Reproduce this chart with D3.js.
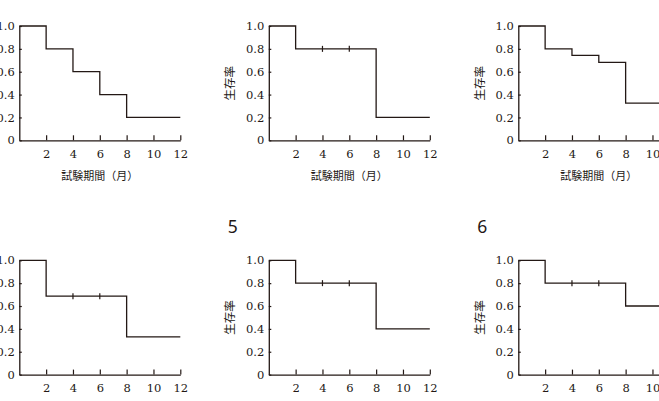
<!DOCTYPE html>
<html>
<head>
<meta charset="utf-8">
<script src="https://cdn.jsdelivr.net/npm/d3@7"></script>
<style>
  html, body { margin: 0; padding: 0; background: #ffffff; }
  svg { display: block; }
</style>
</head>
<body>
<svg id="chart" width="659" height="401"></svg>
<script>
// ---- data ----
const panelLabels = ["1", "2", "3", "4", "5", "6"];
const times = [0, 2, 4, 6, 8, 12];
const surv1 = [1.0, 0.8, 0.6, 0.4, 0.2, 0.2];
const surv2 = [1.0, 0.8, 0.8, 0.8, 0.2, 0.2];
const surv3 = [1.0, 0.8, 0.743, 0.682, 0.325, 0.325];
const surv4 = [1.0, 0.686, 0.686, 0.686, 0.33, 0.33];
const surv5 = [1.0, 0.8, 0.8, 0.8, 0.4, 0.4];
const surv6 = [1.0, 0.8, 0.8, 0.8, 0.6, 0.6];
const censor1 = [];
const censor2 = [4, 6];
const censor3 = [];
const censor4 = [4, 6];
const censor5 = [4, 6];
const censor6 = [4, 6];
const xTicks = [2, 4, 6, 8, 10, 12];
const yTicks = [0, 0.2, 0.4, 0.6, 0.8, 1.0];
const yTickLabels = ["0", "0.2", "0.4", "0.6", "0.8", "1.0"];
const xTitle = "試験期間（月）";
const yTitle = "生存率";

const series = [surv1, surv2, surv3, surv4, surv5, surv6];
const censors = [censor1, censor2, censor3, censor4, censor5, censor6];

// ---- layout ----
const ink = "#231815";
const CW = 659, CH = 401;
const W = 161, H = 114.3;
const x0 = 19.3, y0 = 26, dx = 249.5, dy = 234.3;

const svg = d3.select("#chart");

const x = d3.scaleLinear().domain([0, 12]).range([0, W]);
const y = d3.scaleLinear().domain([0, 1]).range([H, 0]);

series.forEach((vals, i) => {
  const col = i % 3, row = Math.floor(i / 3);
  const ox = x0 + col * dx, oy = y0 + row * dy;
  const g = svg.append("g").attr("transform", `translate(${ox},${oy})`);

  // x axis
  const xa = g.append("g")
    .attr("transform", `translate(0,${H})`)
    .call(d3.axisBottom(x).tickValues(xTicks).tickSizeInner(-5).tickSizeOuter(0).tickPadding(9.5));
  // y axis
  const ya = g.append("g")
    .call(d3.axisLeft(y).tickValues(yTicks).tickFormat((d, k) => yTickLabels[k])
      .tickSizeInner(-2.5).tickSizeOuter(0).tickPadding(4.5));

  [xa, ya].forEach(a => {
    a.select(".domain").attr("stroke", ink).attr("stroke-width", 1.3);
    a.selectAll(".tick line").attr("stroke", ink).attr("stroke-width", 1.2);
    a.selectAll(".tick text")
      .attr("fill", ink)
      .style("font-family", "'DejaVu Serif', serif")
      .style("font-size", "11.5px");
  });
  // drop tick labels that lie wholly outside the visible canvas
  xa.selectAll(".tick").filter(d => ox + x(d) - 8 > CW).select("text").remove();

  // survival curve
  const pts = times.map((t, k) => [t, vals[k]]);
  const line = d3.line().x(d => x(d[0])).y(d => y(d[1])).curve(d3.curveStepAfter);
  g.append("path")
    .attr("d", line(pts))
    .attr("fill", "none")
    .attr("stroke", ink)
    .attr("stroke-width", 1.3);

  // censor marks
  const valAt = t => {
    let v = vals[0];
    times.forEach((tt, k) => { if (tt <= t) v = vals[k]; });
    return v;
  };
  g.selectAll(".censor")
    .data(censors[i])
    .join("line")
    .attr("x1", d => x(d)).attr("x2", d => x(d))
    .attr("y1", d => y(valAt(d)) - 3).attr("y2", d => y(valAt(d)) + 3)
    .attr("stroke", ink).attr("stroke-width", 1.2);

  // y title (only where it falls on the canvas)
  if (ox - 39.5 - 8 > 0) {
    g.append("text")
      .attr("transform", `translate(-39.5,${H / 2}) rotate(-90)`)
      .attr("text-anchor", "middle")
      .attr("dominant-baseline", "central")
      .attr("fill", ink)
      .style("font-family", "'Noto Sans CJK JP', sans-serif")
      .style("font-size", "11.5px")
      .text(yTitle);
  }

  // x title (only where it falls on the canvas)
  if (oy + H + 40 < CH) {
    g.append("text")
      .attr("x", W / 2)
      .attr("y", H + 39.5)
      .attr("text-anchor", "middle")
      .attr("fill", ink)
      .style("font-family", "'Noto Sans CJK JP', sans-serif")
      .style("font-size", "11px")
      .text(xTitle);
  }

  // panel label (only where it falls on the canvas)
  if (ox - 36 - 6 > 0 && oy - 27.5 - 13 > 0) {
    g.append("text")
      .attr("x", -36)
      .attr("y", -27.5)
      .attr("text-anchor", "middle")
      .attr("fill", ink)
      .style("font-family", "'Noto Sans', sans-serif")
      .style("font-size", "17.5px")
      .text(panelLabels[i]);
  }
});
</script>
</body>
</html>
